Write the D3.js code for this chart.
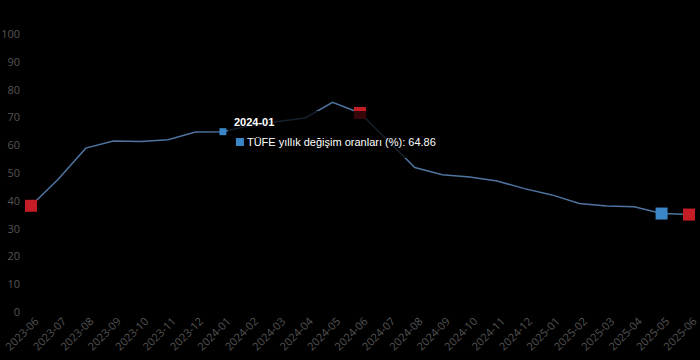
<!DOCTYPE html>
<html>
<head>
<meta charset="utf-8">
<script src="https://cdn.jsdelivr.net/npm/d3@7"></script>
<style>
  html, body { margin: 0; padding: 0; background: #000; }
  svg { display: block; }
</style>
</head>
<body>
<div id="chart"></div>
<script>
// months on the x axis
const months = ["2023-06", "2023-07", "2023-08", "2023-09", "2023-10", "2023-11", "2023-12",
  "2024-01", "2024-02", "2024-03", "2024-04", "2024-05", "2024-06", "2024-07", "2024-08",
  "2024-09", "2024-10", "2024-11", "2024-12", "2025-01", "2025-02", "2025-03", "2025-04",
  "2025-05", "2025-06"];
// TÜFE yıllık değişim (%)
const values = [38.21, 47.83, 58.94, 61.53, 61.36, 61.98, 64.77, 64.86, 67.07, 68.50,
  69.80, 75.45, 71.60, 61.78, 51.97, 49.38, 48.58, 47.09, 44.38, 42.12, 39.05, 38.10,
  37.86, 35.41, 35.05];
const yTicks = [0, 10, 20, 30, 40, 50, 60, 70, 80, 90, 100];
const redMonths = ["2023-06", "2024-06", "2025-06"];
const blueMonths = ["2025-05"];
const hoverMonth = "2024-01";
const seriesName = "TÜFE yıllık değişim oranları (%)";

const width = 700, height = 360;
const data = months.map((m, i) => ({ month: m, value: values[i] }));

const svg = d3.select("#chart").append("svg")
  .attr("width", width)
  .attr("height", height);

svg.append("rect").attr("width", width).attr("height", height).attr("fill", "#000");

const x = d3.scalePoint().domain(months).range([31, 689]);
const y = d3.scaleLinear().domain([0, 100]).range([312, 34]);

// y axis labels
const yAxis = svg.append("g")
  .attr("transform", "translate(20,0)")
  .call(d3.axisLeft(y).tickValues(yTicks).tickSize(0).tickPadding(0));
yAxis.select(".domain").remove();
yAxis.selectAll("text")
  .attr("fill", "#555")
  .style("font-family", "'Open Sans', sans-serif")
  .style("font-size", "11px");

// x axis labels, rotated
const xAxis = svg.append("g")
  .attr("transform", "translate(0,318)")
  .call(d3.axisBottom(x).tickSize(0).tickPadding(0));
xAxis.select(".domain").remove();
xAxis.selectAll("text")
  .attr("fill", "#555")
  .attr("dy", 0)
  .attr("y", 0)
  .attr("transform", "translate(8,4) rotate(-45)")
  .style("text-anchor", "end")
  .style("font-family", "'Open Sans', sans-serif")
  .style("font-size", "11px");

// line
const line = d3.line()
  .x(d => x(d.month))
  .y(d => y(d.value));

svg.append("path")
  .datum(data)
  .attr("d", line)
  .attr("fill", "none")
  .attr("stroke", "#4f74a0")
  .attr("stroke-width", 1.5);

// square markers
const markerSize = 12;
svg.selectAll("rect.red")
  .data(data.filter(d => redMonths.includes(d.month)))
  .enter()
  .append("rect")
  .attr("class", "red")
  .attr("x", d => x(d.month) - markerSize / 2)
  .attr("y", d => y(d.value) - markerSize / 2)
  .attr("width", markerSize)
  .attr("height", markerSize)
  .attr("fill", "#c41d25");

svg.selectAll("rect.blue")
  .data(data.filter(d => blueMonths.includes(d.month)))
  .enter()
  .append("rect")
  .attr("class", "blue")
  .attr("x", d => x(d.month) - markerSize / 2)
  .attr("y", d => y(d.value) - markerSize / 2)
  .attr("width", markerSize)
  .attr("height", markerSize)
  .attr("fill", "#3a86c6");

// hovered point
const hover = data.find(d => d.month === hoverMonth);
svg.append("rect")
  .attr("x", x(hover.month) - 3.5)
  .attr("y", y(hover.value) - 3.5)
  .attr("width", 7)
  .attr("height", 7)
  .attr("fill", "#3a86c6");

// tooltip
const tipX = x(hover.month) + 5, tipY = 111;
const tip = svg.append("g").attr("transform", "translate(" + tipX + "," + tipY + ")");
tip.append("rect")
  .attr("width", 217)
  .attr("height", 47)
  .attr("fill", "rgba(0,0,0,0.72)");
tip.append("text")
  .attr("x", 6)
  .attr("y", 15)
  .attr("fill", "#fff")
  .style("font-family", "'Liberation Sans', Arial, sans-serif")
  .style("font-size", "11px")
  .style("font-weight", "bold")
  .text(hover.month);
tip.append("rect")
  .attr("x", 8)
  .attr("y", 27)
  .attr("width", 8)
  .attr("height", 8)
  .attr("fill", "#3a86c6");
tip.append("text")
  .attr("x", 19)
  .attr("y", 35)
  .attr("fill", "#fff")
  .style("font-family", "'Liberation Sans', Arial, sans-serif")
  .style("font-size", "11px")
  .text(seriesName + ": " + hover.value.toFixed(2));
</script>
</body>
</html>
